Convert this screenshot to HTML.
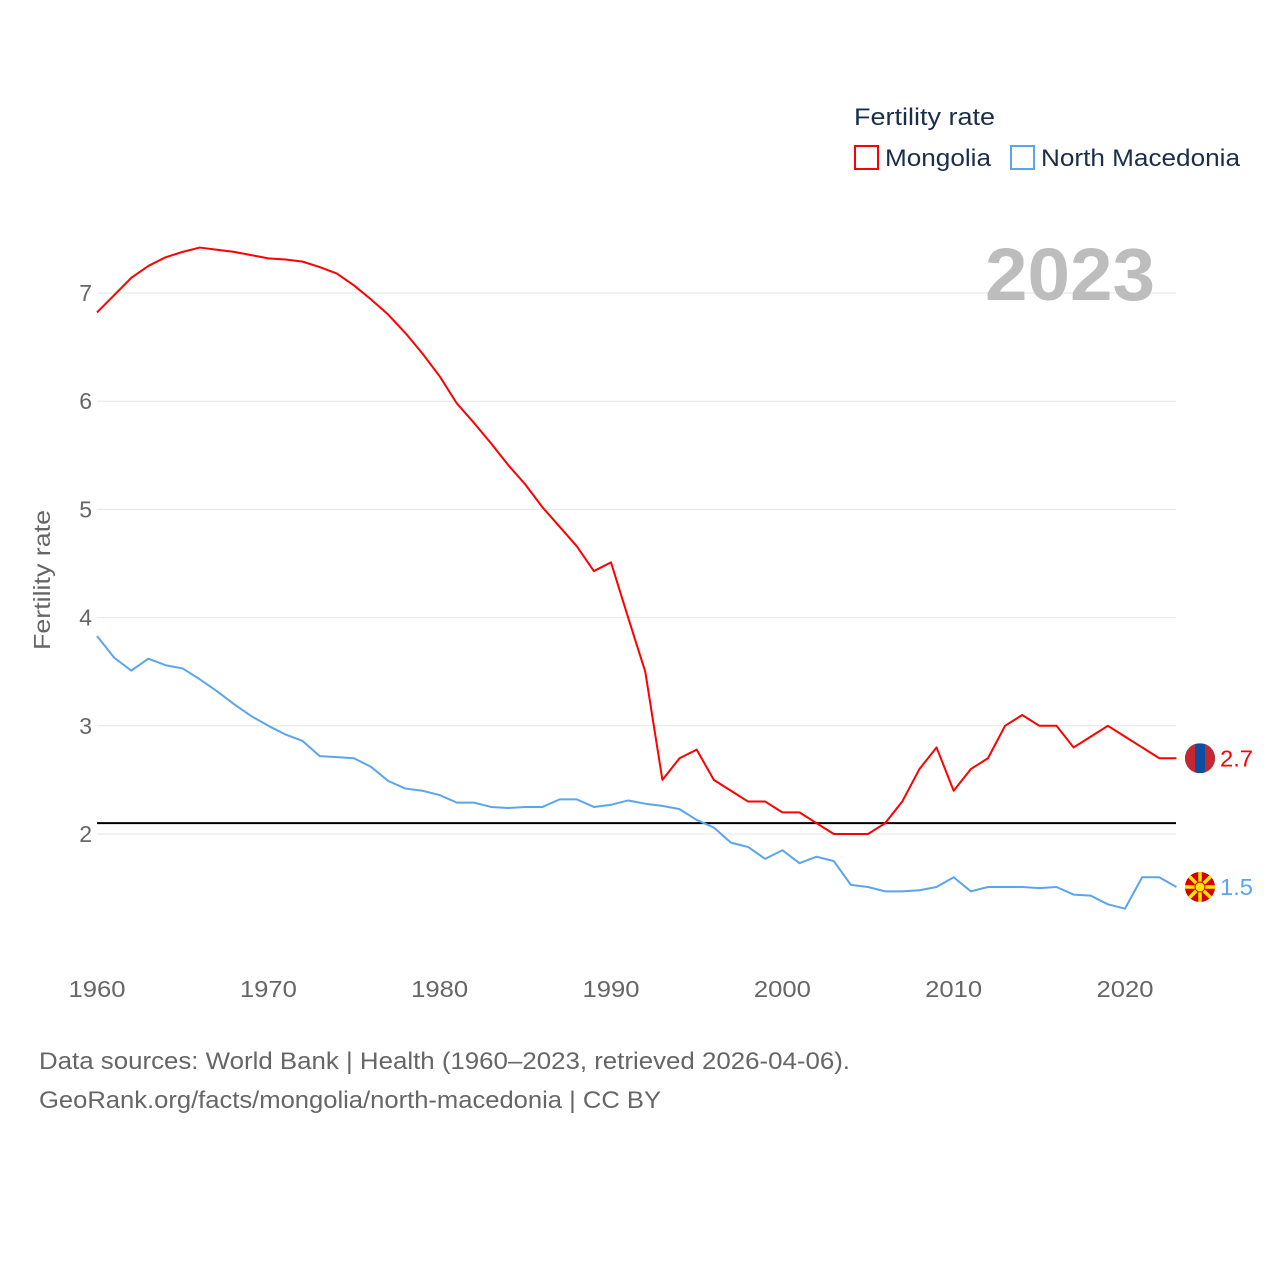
<!DOCTYPE html>
<html><head><meta charset="utf-8">
<style>
body{margin:0;background:#fff;font-family:"Liberation Sans",sans-serif;}
svg text{font-family:"Liberation Sans",sans-serif;}
</style></head>
<body>
<svg id="chart" width="1280" height="1280" viewBox="0 0 1280 1280" xmlns="http://www.w3.org/2000/svg">
<defs>
<clipPath id="flagClipM"><circle cx="1200" cy="0" r="15"/></clipPath>
<clipPath id="flagClipN"><circle cx="1200" cy="0" r="15"/></clipPath>
</defs>
<rect width="1280" height="1280" fill="#fff"/>
<g id="grid"></g>
<g id="xticks"></g>
<text transform="translate(50,580) rotate(-90)" text-anchor="middle" font-size="23" fill="#666" textLength="140" lengthAdjust="spacingAndGlyphs">Fertility rate</text>
<text x="1155" y="300" text-anchor="end" font-size="74" font-weight="bold" fill="#bdbdbd" textLength="170" lengthAdjust="spacingAndGlyphs">2023</text>
<g id="series"></g>
<g>
<text x="854" y="125" font-size="24" fill="#1a2e4a" textLength="141" lengthAdjust="spacingAndGlyphs">Fertility rate</text>
<rect x="855" y="146" width="23" height="23" fill="#fff" stroke="#ff0000" stroke-width="2"/>
<text x="885" y="166" font-size="24" fill="#1a2e4a" textLength="106" lengthAdjust="spacingAndGlyphs">Mongolia</text>
<rect x="1011" y="146" width="23" height="23" fill="#fff" stroke="#5aa5ee" stroke-width="2"/>
<text x="1041" y="166" font-size="24" fill="#1a2e4a" textLength="199" lengthAdjust="spacingAndGlyphs">North Macedonia</text>
</g>
<text x="39" y="1069" font-size="24" fill="#666" textLength="811" lengthAdjust="spacingAndGlyphs">Data sources: World Bank | Health (1960–2023, retrieved 2026-04-06).</text>
<text x="39" y="1108" font-size="24" fill="#666" textLength="622" lengthAdjust="spacingAndGlyphs">GeoRank.org/facts/mongolia/north-macedonia | CC BY</text>
</svg>
<script>
const years=[];for(let y=1960;y<=2023;y++)years.push(y);
const mongolia=[6.82,6.98,7.14,7.25,7.33,7.38,7.42,7.40,7.38,7.35,7.32,7.31,7.29,7.24,7.18,7.07,6.94,6.80,6.63,6.44,6.23,5.98,5.80,5.61,5.41,5.23,5.02,4.84,4.66,4.43,4.51,4.0,3.50,2.50,2.70,2.78,2.5,2.4,2.3,2.3,2.2,2.2,2.1,2.0,2.0,2.0,2.1,2.3,2.6,2.8,2.4,2.6,2.7,3.0,3.1,3.0,3.0,2.8,2.9,3.0,2.9,2.8,2.7,2.7];
const macedonia=[3.83,3.63,3.51,3.62,3.56,3.53,3.43,3.32,3.20,3.09,3.00,2.92,2.86,2.72,2.71,2.70,2.62,2.49,2.42,2.40,2.36,2.29,2.29,2.25,2.24,2.25,2.25,2.32,2.32,2.25,2.27,2.31,2.28,2.26,2.23,2.13,2.06,1.92,1.88,1.77,1.85,1.73,1.79,1.75,1.53,1.51,1.47,1.47,1.48,1.51,1.60,1.47,1.51,1.51,1.51,1.50,1.51,1.44,1.43,1.35,1.31,1.60,1.60,1.51];
const yTicks=[2,3,4,5,6,7];
const xTicks=[1960,1970,1980,1990,2000,2010,2020];
const replacement=2.1;
const NS="http://www.w3.org/2000/svg";
const X=y=>97+(y-1960)*(1028/60);
const Y=v=>834-(v-2)*108.2;
function mk(t,a,p){const e=document.createElementNS(NS,t);for(const k in a)e.setAttribute(k,a[k]);p.appendChild(e);return e;}
const grid=document.getElementById('grid');
yTicks.forEach(v=>{
 const l=mk('line',{x1:97,x2:1176,y1:Y(v),y2:Y(v),stroke:'#e6e6e6','stroke-width':1},grid);
 
 
 const t=mk('text',{x:92,y:Y(v)+8,'text-anchor':'end','font-size':23,fill:'#666'},grid);
 
 
 t.textContent=v;
});
const xt=document.getElementById('xticks');
xTicks.forEach(v=>{
 const t=mk('text',{x:X(v),y:997,'text-anchor':'middle','font-size':23,fill:'#666',textLength:57,lengthAdjust:'spacingAndGlyphs'},xt);
 
 
 t.textContent=v;
});
const s=document.getElementById('series');
const rl=mk('line',{x1:97,x2:1176,y1:Y(replacement),y2:Y(replacement),stroke:'#000','stroke-width':2},s);


function line(vals,color,name){
 const p=mk('polyline',{points:vals.map((v,i)=>X(years[i])+','+Y(v)).join(' '),fill:'none',stroke:color,'stroke-width':2,'stroke-linejoin':'round'},s);
 
 
 const last=vals[vals.length-1];
 const cy=Y(last);
 const g=mk('g',{transform:'translate(0,'+cy+')','clip-path':color==='#ff0000'?'url(#flagClipM)':'url(#flagClipN)'},s);
 
 
 if(color==='#ff0000'){
  mk('rect',{x:1185,y:-15,width:30,height:30,fill:'#0b4ea2'},g);
  mk('rect',{x:1185,y:-15,width:10,height:30,fill:'#c4272f'},g);
  mk('rect',{x:1205,y:-15,width:10,height:30,fill:'#c4272f'},g);
 } else {
  mk('rect',{x:1185,y:-15,width:30,height:30,fill:'#d20000'},g);
  for(let k=0;k<8;k++){const ang=k*Math.PI/4;
   mk('line',{x1:1200,y1:0,x2:1200+16*Math.cos(ang),y2:16*Math.sin(ang),stroke:'#ffe600','stroke-width':3.5},g);}
  mk('circle',{cx:1200,cy:0,r:5,fill:'#ffe600',stroke:'#d20000','stroke-width':1},g);
 }
 const t=mk('text',{x:1220,y:cy+8,'font-size':23,fill:color,textLength:33,lengthAdjust:'spacingAndGlyphs'},s);
 
 
 t.textContent=last.toFixed(1);
}
line(mongolia,'#ff0000','mongolia');
line(macedonia,'#5aa5ee','north-macedonia');
</script>
</body></html>
